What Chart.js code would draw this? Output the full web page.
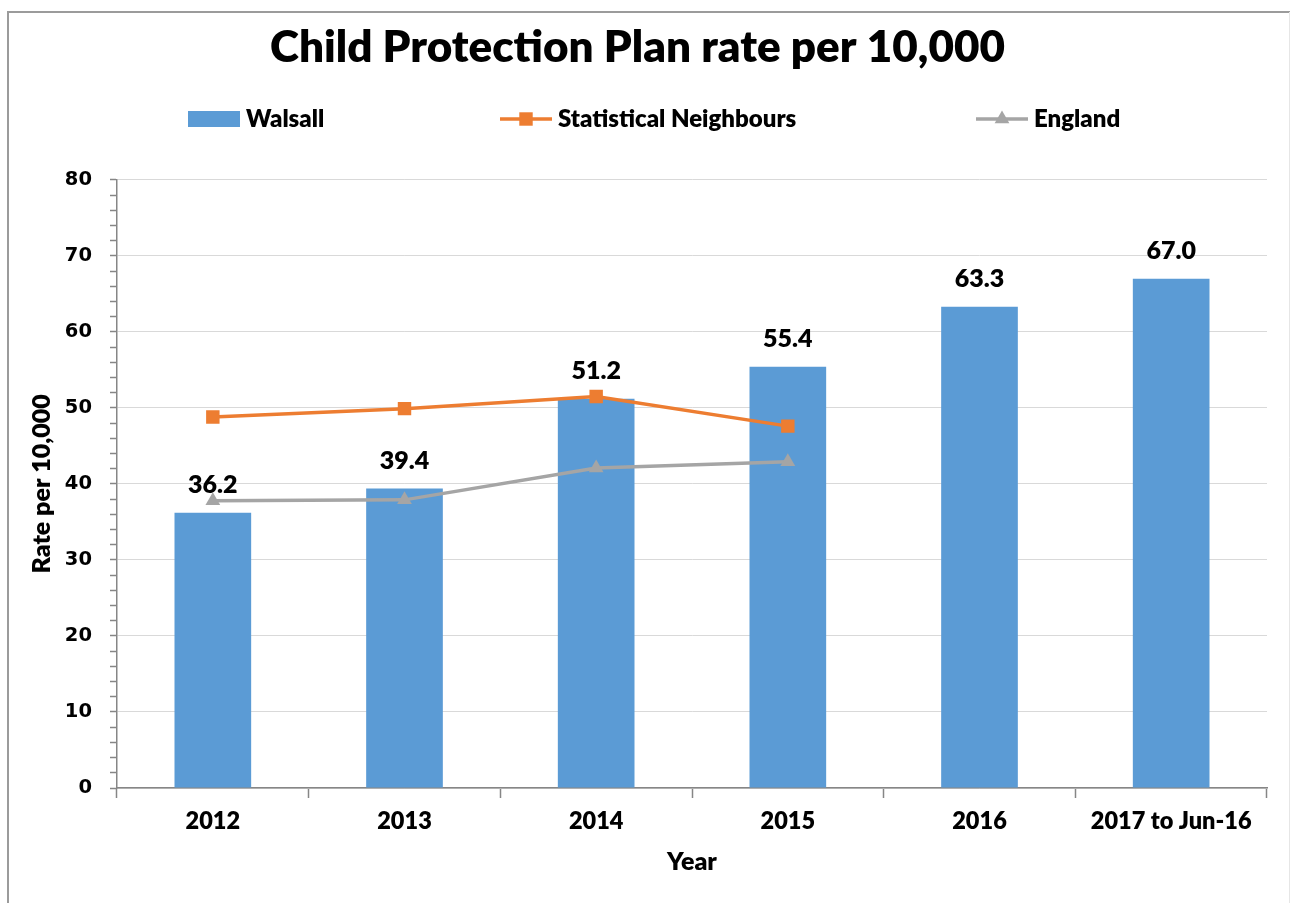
<!DOCTYPE html>
<html>
<head>
<meta charset="utf-8">
<title>Child Protection Plan rate per 10,000</title>
<script src="https://cdn.jsdelivr.net/npm/chart.js@4.4.1/dist/chart.umd.min.js"></script>
<style>
  html, body { margin: 0; padding: 0; background: #fff; }
  canvas { display: block; }
</style>
</head>
<body>
<canvas id="cpp" width="1292" height="903"></canvas>
<script>
// Categories and series
const years = ['2012', '2013', '2014', '2015', '2016', '2017 to Jun-16'];
const walsall = [36.2, 39.4, 51.2, 55.4, 63.3, 67.0];
const neighbours = [48.8, 49.9, 51.5, 47.6, null, null];
const england = [37.8, 37.9, 42.1, 42.9, null, null];

// Y axis: labelled every 10, minor marks every 2
const yMin = 0;
const yMax = 80;
const yMajorStep = 10;
const yMinorStep = 2;

const FONT = 'Lato, "Open Sans", sans-serif';
const WEIGHT = '800';
const BLUE = '#5B9BD5';
const ORANGE = '#ED7D31';
const GREY = '#A5A5A5';
const AXIS = '#868686';

// Page frame around the whole chart
const framePlugin = {
  id: 'frame',
  beforeDraw(chart) {
    const ctx = chart.ctx;
    ctx.save();
    ctx.fillStyle = '#fff';
    ctx.fillRect(0, 0, chart.width, chart.height);
    ctx.strokeStyle = '#9b9b9b';
    ctx.lineWidth = 2;
    ctx.beginPath();
    ctx.moveTo(8, chart.height + 2);
    ctx.lineTo(8, 12);
    ctx.lineTo(chart.width - 2, 12);
    ctx.stroke();
    ctx.strokeStyle = '#e6e6e6';
    ctx.lineWidth = 1;
    ctx.beginPath();
    ctx.moveTo(chart.width - 2.5, 12);
    ctx.lineTo(chart.width - 2.5, chart.height);
    ctx.stroke();
    ctx.restore();
  }
};

// Legend row: bar swatch or line with marker, followed by the series name
const legendSlots = [188, 500, 976];
const legendPlugin = {
  id: 'rowLegend',
  afterDraw(chart) {
    const ctx = chart.ctx;
    const cy = 119;
    const w = 52;
    ctx.save();
    ctx.font = WEIGHT + ' 24px ' + FONT;
    ctx.textBaseline = 'middle';
    ctx.textAlign = 'left';
    chart.data.datasets.forEach((ds, i) => {
      const x = legendSlots[i];
      if (ds.type === 'bar') {
        ctx.fillStyle = ds.backgroundColor;
        ctx.fillRect(x, cy - 8, w, 16);
      } else {
        ctx.strokeStyle = ds.borderColor;
        ctx.lineWidth = ds.borderWidth;
        ctx.beginPath();
        ctx.moveTo(x, cy);
        ctx.lineTo(x + w, cy);
        ctx.stroke();
        const mx = x + w / 2;
        const r = ds.pointRadius;
        ctx.fillStyle = ds.pointBackgroundColor;
        ctx.beginPath();
        if (ds.pointStyle === 'rect') {
          const s = Math.SQRT1_2 * r;
          ctx.rect(mx - s, cy - s, 2 * s, 2 * s);
        } else {
          ctx.moveTo(mx, cy - r);
          ctx.lineTo(mx + r * Math.sin(Math.PI / 3), cy + r / 2);
          ctx.lineTo(mx - r * Math.sin(Math.PI / 3), cy + r / 2);
          ctx.closePath();
        }
        ctx.fill();
      }
      ctx.fillStyle = '#000';
      ctx.fillText(ds.label, x + w + 6, cy);
    });
    ctx.restore();
  }
};

// Value labels above the Walsall bars
const barLabelPlugin = {
  id: 'barLabels',
  afterDatasetsDraw(chart) {
    const ctx = chart.ctx;
    ctx.save();
    ctx.font = WEIGHT + ' 25px ' + FONT;
    ctx.fillStyle = '#000';
    ctx.textAlign = 'center';
    ctx.textBaseline = 'middle';
    chart.data.datasets.forEach((ds, i) => {
      if (ds.type !== 'bar') return;
      const meta = chart.getDatasetMeta(i);
      meta.data.forEach((bar, j) => {
        const v = ds.data[j];
        if (v == null) return;
        ctx.fillText(v.toFixed(1), bar.x, bar.y - 28);
      });
    });
    ctx.restore();
  }
};

function draw() {
  new Chart(document.getElementById('cpp'), {
    data: {
      labels: years,
      datasets: [
        {
          type: 'bar',
          label: 'Walsall',
          data: walsall,
          backgroundColor: BLUE,
          borderWidth: 0,
          barPercentage: 0.4,
          categoryPercentage: 1.0,
          order: 3
        },
        {
          type: 'line',
          label: 'Statistical Neighbours',
          data: neighbours,
          borderColor: ORANGE,
          backgroundColor: ORANGE,
          borderWidth: 3.5,
          pointStyle: 'rect',
          pointRadius: 9.5,
          pointBackgroundColor: ORANGE,
          pointBorderWidth: 0,
          tension: 0,
          spanGaps: false,
          order: 1
        },
        {
          type: 'line',
          label: 'England',
          data: england,
          borderColor: GREY,
          backgroundColor: GREY,
          borderWidth: 3.5,
          pointStyle: 'triangle',
          pointRadius: 8.5,
          pointBackgroundColor: GREY,
          pointBorderWidth: 0,
          tension: 0,
          spanGaps: false,
          order: 2
        }
      ]
    },
    options: {
      responsive: false,
      animation: false,
      devicePixelRatio: 1,
      events: [],
      layout: { padding: { left: 8, right: 25, top: 12, bottom: 0 } },
      plugins: {
        legend: { display: false },
        tooltip: { enabled: false },
        title: {
          display: true,
          text: 'Child Protection Plan rate per 10,000',
          color: '#000',
          font: { family: FONT, size: 44, weight: WEIGHT, lineHeight: 1.2 },
          padding: { top: 9, bottom: 106 }
        }
      },
      scales: {
        x: {
          offset: true,
          grid: {
            offset: true,
            drawOnChartArea: false,
            tickLength: 10,
            tickColor: AXIS,
            tickWidth: 1.5
          },
          border: { color: AXIS, width: 1.5 },
          ticks: {
            color: '#000',
            font: { family: FONT, size: 23.5, weight: WEIGHT, lineHeight: 1.2 },
            padding: 9,
            maxRotation: 0,
            autoSkip: false
          },
          title: {
            display: true,
            text: 'Year',
            color: '#000',
            font: { family: FONT, size: 25, weight: WEIGHT, lineHeight: 1.2 },
            padding: { top: 0, bottom: 26 }
          },
          afterFit(scale) { scale.height = 115; }
        },
        y: {
          min: yMin,
          max: yMax,
          grid: {
            color: (c) => (c.tick && c.tick.value % yMajorStep === 0) ? '#d9d9d9' : 'rgba(0,0,0,0)',
            lineWidth: 1,
            tickColor: AXIS,
            tickWidth: 1.5,
            tickLength: 7
          },
          border: { color: AXIS, width: 1.5 },
          ticks: {
            stepSize: yMinorStep,
            autoSkip: false,
            color: '#000',
            padding: 18,
            font: { family: '"DejaVu Sans", sans-serif', size: 19.5, weight: 'bold' },
            callback: (v) => (v % yMajorStep === 0 ? String(v) : '')
          },
          title: {
            display: true,
            text: 'Rate per 10,000',
            color: '#000',
            font: { family: FONT, size: 25, weight: WEIGHT, lineHeight: 1.2 },
            padding: { top: 19, bottom: 0 }
          },
          afterFit(scale) { scale.width = 109; }
        }
      }
    },
    plugins: [framePlugin, legendPlugin, barLabelPlugin]
  });
}

if (document.fonts && document.fonts.load) {
  Promise.all([
    document.fonts.load(WEIGHT + ' 22px Lato'),
    document.fonts.load('bold 19px "DejaVu Sans"')
  ]).then(draw, draw);
} else {
  draw();
}
</script>
</body>
</html>
